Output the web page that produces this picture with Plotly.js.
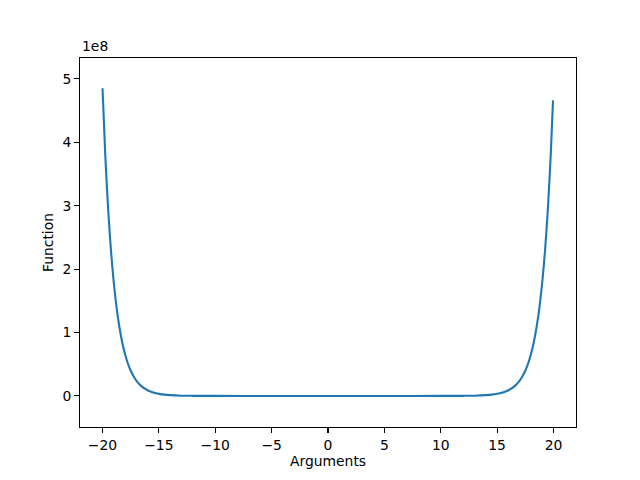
<!DOCTYPE html>
<html>
<head>
<meta charset="utf-8">
<script src="https://cdn.plot.ly/plotly-3.0.1.min.js"></script>
<style>
  html, body { margin: 0; padding: 0; background: #fff; }
  #chart { width: 640px; height: 480px; }
</style>
</head>
<body>
<div id="chart"></div>
<script>
// values, y in units of 1e8
const args = [
  -20, -19.75, -19.5, -19.25, -19, -18.75, -18.5, -18.25, -18, -17.75,
  -17.5, -17.25, -17, -16.75, -16.5, -16.25, -16, -15.75, -15.5, -15.25,
  -15, -14.5, -14, -13, -12, -10, -5, 0, 5, 10, 12, 13, 14, 14.5,
  15, 15.25, 15.5, 15.75, 16, 16.25, 16.5, 16.75, 17, 17.25,
  17.5, 17.75, 18, 18.25, 18.5, 18.75, 19, 19.25, 19.5, 19.75, 19.96
];
const func = [
  4.852, 3.778, 2.943, 2.292, 1.785, 1.390, 1.083, 0.843, 0.657, 0.511,
  0.398, 0.310, 0.242, 0.188, 0.147, 0.114, 0.089, 0.069, 0.054, 0.042,
  0.033, 0.020, 0.012, 0.004, 0.0016, 0.0002, 0, 0, 0, 0.0002, 0.0016, 0.004, 0.012, 0.020,
  0.033, 0.042, 0.054, 0.069, 0.089, 0.114, 0.147, 0.188, 0.242, 0.310,
  0.398, 0.511, 0.657, 0.843, 1.083, 1.390, 1.785, 2.292, 2.943, 3.778, 4.662
];
const xTicks = [-20, -15, -10, -5, 0, 5, 10, 15, 20];
const yTicks = [0, 1, 2, 3, 4, 5];

const fontFamily = 'DejaVu Sans, sans-serif';

const trace = {
  x: args,
  y: func,
  type: 'scatter',
  mode: 'lines',
  line: { color: '#1f77b4', width: 2.1, shape: 'spline', smoothing: 0.8 },
  hoverinfo: 'x+y'
};

const axisStyle = {
  showgrid: false,
  zeroline: false,
  showline: true,
  linecolor: '#000',
  linewidth: 1.1,
  mirror: true,
  ticks: 'outside',
  ticklen: 4.9,
  tickwidth: 1.1,
  tickcolor: '#000',
  tickfont: { family: fontFamily, size: 13.9, color: '#000' }
};

const layout = {
  width: 640,
  height: 480,
  margin: { l: 80, r: 64, t: 58, b: 53 },
  paper_bgcolor: '#fff',
  plot_bgcolor: '#fff',
  showlegend: false,
  font: { family: fontFamily, size: 13.9, color: '#000' },
  xaxis: Object.assign({}, axisStyle, {
    range: [-21.998, 21.998],
    tickmode: 'array',
    tickvals: xTicks,
    title: { text: 'Arguments', font: { family: fontFamily, size: 13.9 }, standoff: 4 }
  }),
  yaxis: Object.assign({}, axisStyle, {
    range: [-0.49, 5.33],
    tickmode: 'array',
    tickvals: yTicks,
    title: { text: 'Function', font: { family: fontFamily, size: 13.9 }, standoff: 5 }
  }),
  annotations: [{
    text: '1e8',
    xref: 'paper', yref: 'paper',
    x: 0, y: 1,
    xanchor: 'left', yanchor: 'bottom',
    yshift: 2,
    showarrow: false,
    font: { family: fontFamily, size: 13.9, color: '#000' }
  }]
};

Plotly.newPlot('chart', [trace], layout, { displayModeBar: false, staticPlot: true });
</script>
</body>
</html>
